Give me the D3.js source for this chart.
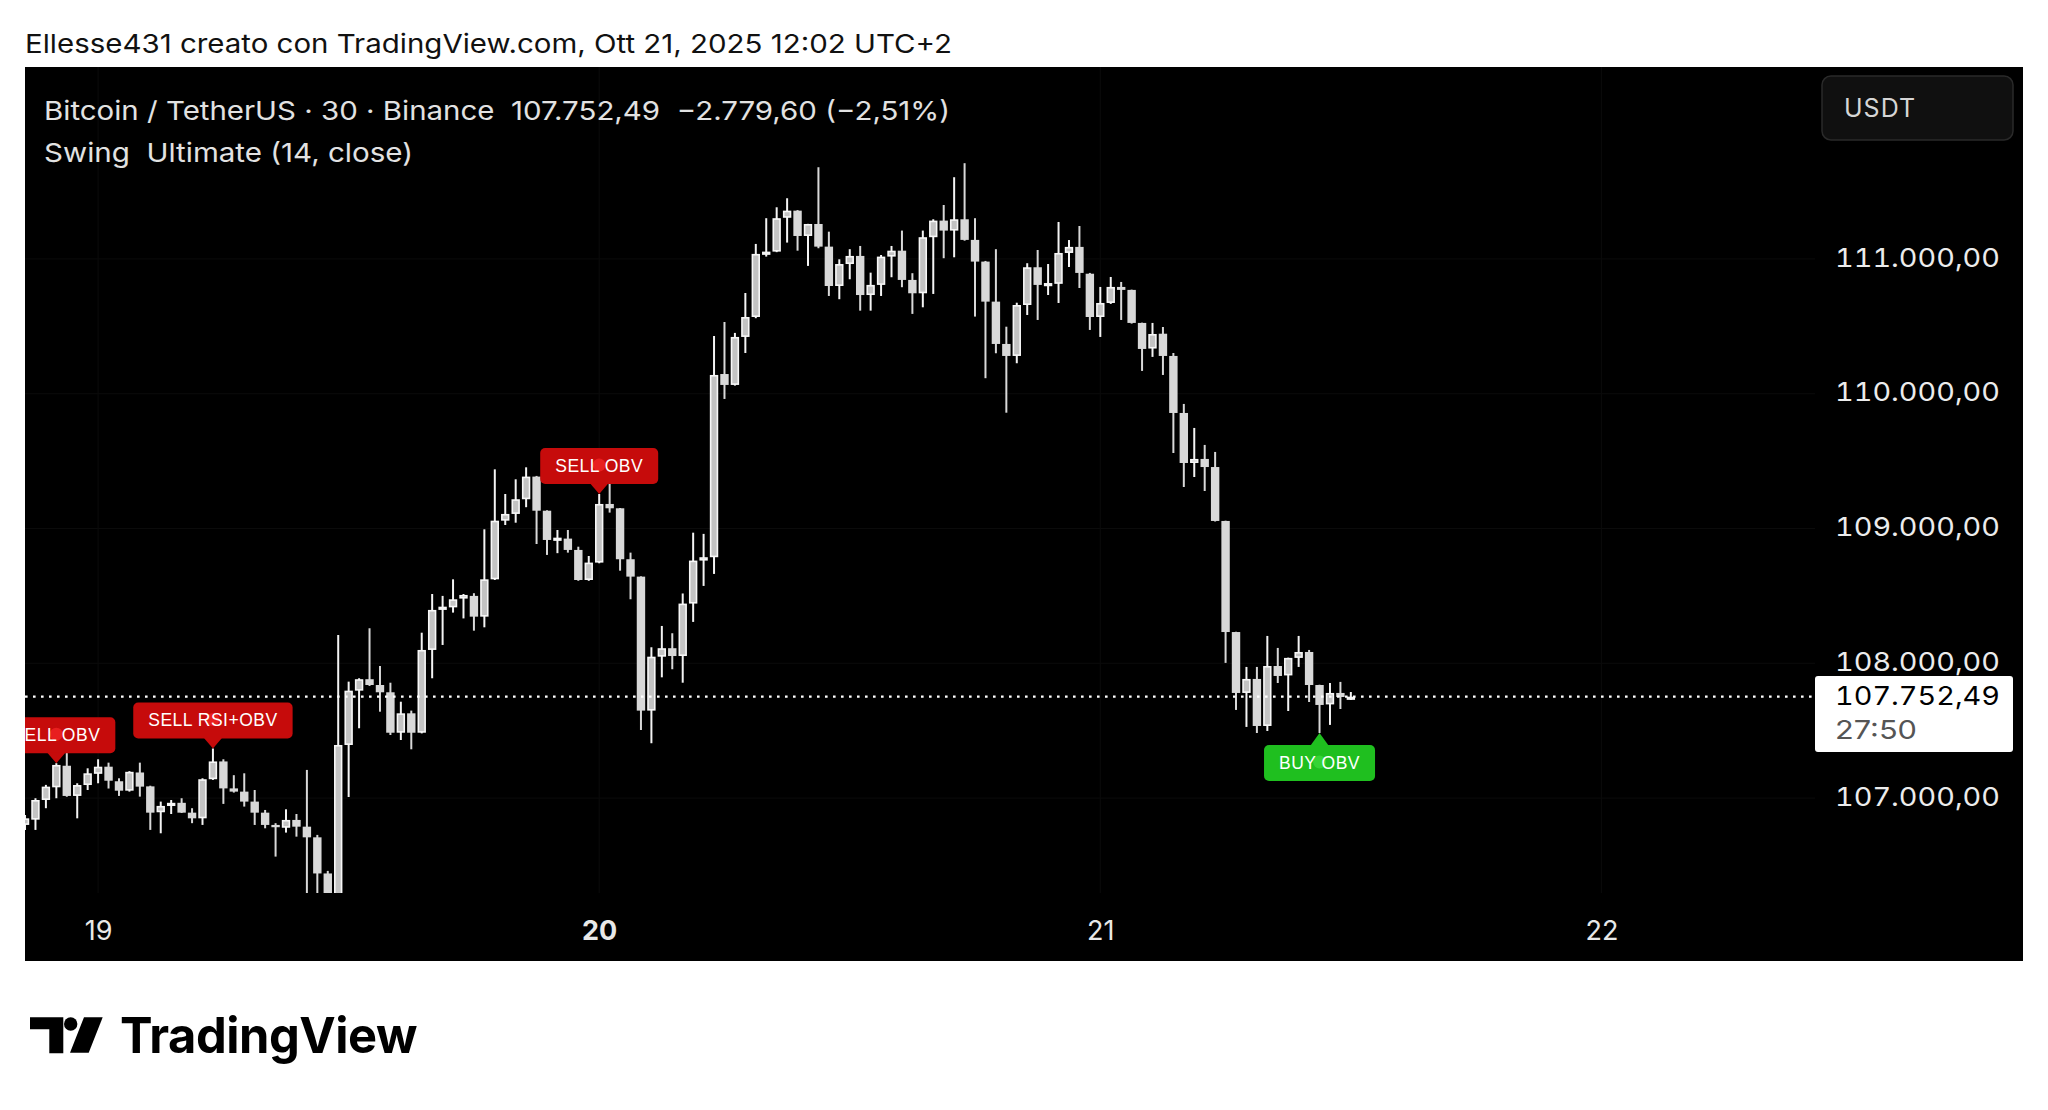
<!DOCTYPE html>
<html>
<head>
<meta charset="utf-8">
<script src="https://cdn.jsdelivr.net/npm/d3@7"></script>
<style>
html,body{margin:0;padding:0;background:#fff;}
svg{display:block;}
</style>
</head>
<body>
<svg id="chart" width="2048" height="1110"></svg>
<script>
// ---------------- DATA ----------------
const firstBarTime = Date.UTC(2025, 9, 18, 20, 30); // Oct 18 20:30 (UTC+2 clock)
const barMinutes = 30;

const opens = [106801,106840,106986,107080,107240,107016,107097,107180,107233,107125,
107055,107190,107087,106895,106945,106965,106892,106850,107140,107272,
107072,107048,106974,106892,106801,106780,106838,106788,106709,106441,
106250,107394,107797,107882,107839,107785,107485,107629,107485,108099,
108396,108415,108480,108500,108346,108623,109058,109108,109217,109385,
109132,108915,108925,108841,108618,108747,109182,109150,108772,108643,
107649,108049,108112,108054,108443,108762,108787,110146,110065,110421,
110569,111030,111054,111305,111358,111170,111259,111091,110799,110962,
111022,110732,110807,111017,111061,110844,110745,111161,111284,111210,
111294,111141,110980,110683,110369,110280,110658,110938,110807,110815,
111044,111089,110890,110569,110673,110792,110770,110525,110335,110445,
110280,109857,109486,109516,109456,109056,108232,107780,107884,107535,
107980,107910,108040,108084,107839,107695,107780,107748];
const highs = [106875,106999,107098,107259,107345,107110,107221,107288,107263,107147,
107200,107263,107092,106974,106986,106999,106925,107147,107368,107288,
107170,107184,107060,106912,106814,106917,106882,107209,106727,106460,
108210,107864,107889,108260,107980,107856,107715,107649,108227,108514,
108500,108623,108514,108520,108994,109439,109256,109365,109454,109390,
109135,108989,108989,108865,108796,109256,109373,109152,108821,108645,
108119,108277,108223,108518,108969,108960,110428,110532,110451,110747,
111111,111302,111383,111450,111362,111260,111680,111202,110997,111072,
111096,110898,111029,111096,111210,110894,111210,111294,111400,111606,
111710,111302,110985,111072,110497,110675,110968,111066,110962,111274,
111140,111244,110896,110792,110866,110829,110772,110527,110525,110495,
110302,109924,109746,109620,109568,109058,108234,107973,107973,108203,
108114,108042,108203,108099,107841,107854,107862,107787];
const lows = [106764,106764,106925,106999,107010,106850,107060,107110,107071,107016,
107048,107011,106764,106739,106882,106890,106814,106801,107135,106957,
107041,106937,106801,106776,106566,106744,106714,106200,106230,106180,
106200,107008,107518,107832,107641,107468,107431,107362,107480,107889,
108136,108376,108333,108242,108267,108618,109026,109043,109158,108885,
108804,108817,108821,108612,108612,108742,109118,108687,108475,107505,
107407,107896,107956,107856,108307,108574,108663,109961,110060,110302,
110560,111017,111050,111121,111061,110948,111079,110725,110701,110849,
110616,110616,110725,110864,110790,110592,110641,110740,111005,111012,
111135,110572,110115,110300,109859,110226,110584,110547,110732,110673,
110940,110784,110473,110421,110666,110547,110520,110169,110273,110139,
109560,109308,109382,109278,109052,108003,107654,107528,107483,107498,
107854,107646,107973,107713,107483,107543,107661,107728];
const closes = [106850,106986,107085,107246,107016,107097,107184,107233,107129,107055,
107195,107085,106892,106942,106965,106892,106850,107140,107272,107072,
107048,106974,106892,106801,106784,106838,106788,106709,106441,106250,
107394,107797,107882,107839,107785,107485,107629,107485,108099,108396,
108420,108475,108507,108346,108623,109058,109108,109217,109385,109132,
108915,108932,108841,108618,108747,109182,109150,108772,108643,107649,
108049,108112,108054,108443,108762,108787,110139,110065,110421,110569,
111037,111054,111302,111358,111170,111259,111091,110799,110962,111022,
110732,110807,111017,111061,110844,110745,111161,111284,111210,111294,
111141,110980,110683,110369,110280,110658,110938,110807,110821,111044,
111089,110896,110569,110673,110792,110770,110525,110332,110443,110280,
109857,109486,109516,109456,109056,108232,107780,107884,107535,107980,
107906,108040,108084,107839,107691,107780,107750,107752.49];

const priceTicks = [107000, 108000, 109000, 110000, 111000];
const lastPrice = 107752.49;
const countdown = "27:50";
const boldDays = ["20"];

const signalBars  = [3, 18, 55, 124];
const signalTexts = ["SELL OBV", "SELL RSI+OBV", "SELL OBV", "BUY OBV"];
const signalTypes = ["sell", "sell", "sell", "buy"];

const headerText = "Ellesse431 creato con TradingView.com, Ott 21, 2025 12:02 UTC+2";
const legend1 = "Bitcoin / TetherUS · 30 · Binance  107.752,49  \u22122.779,60 (\u22122,51%)";
const legend2 = "Swing  Ultimate (14, close)";
const currency = "USDT";

// ---------------- CHART ----------------
const svg = d3.select("#chart");
const FONT = "Inter, 'Noto Sans', 'Liberation Sans', sans-serif";
const it = d3.formatLocale({decimal: ",", thousands: ".", grouping: [3], currency: ["", ""]});
const fmtPrice = it.format(",.2f");

const bars = opens.map((o, i) => ({
  t: new Date(firstBarTime + i * barMinutes * 60000),
  o, h: highs[i], l: lows[i], c: closes[i]
}));

const pane = {x0: 25, x1: 1815, y0: 67, y1: 893};

svg.append("rect").attr("width", 2048).attr("height", 1110).attr("fill", "#fff");
svg.append("rect").attr("x", 25).attr("y", 67).attr("width", 1998).attr("height", 894).attr("fill", "#000");

const x = d3.scaleUtc()
  .domain([new Date(Date.UTC(2025, 9, 19)), new Date(Date.UTC(2025, 9, 22))])
  .range([98.1, 1601.4]);
const y = d3.scaleLinear().domain([107000, 111000]).range([798.1, 258.9]);

svg.append("defs").append("clipPath").attr("id", "paneClip")
  .append("rect").attr("x", pane.x0).attr("y", pane.y0)
  .attr("width", pane.x1 - pane.x0).attr("height", pane.y1 - pane.y0);

// grid (very faint)
const grid = svg.append("g");
grid.selectAll("line.h").data(priceTicks).join("line")
  .attr("x1", pane.x0).attr("x2", pane.x1)
  .attr("y1", d => y(d)).attr("y2", d => y(d))
  .attr("stroke", "#0b0b0b").attr("stroke-width", 1);
const dayTicks = x.ticks(d3.utcDay.every(1));
grid.selectAll("line.v").data(dayTicks).join("line")
  .attr("x1", d => x(d)).attr("x2", d => x(d))
  .attr("y1", pane.y0).attr("y2", pane.y1)
  .attr("stroke", "#0b0b0b").attr("stroke-width", 1);

// candles
const cg = svg.append("g").attr("clip-path", "url(#paneClip)");
const bw = 8.4;
const isUp = d => d.c >= d.o;
cg.selectAll("line.wick").data(bars).join("line")
  .attr("x1", d => x(d.t)).attr("x2", d => x(d.t))
  .attr("y1", d => y(d.h)).attr("y2", d => y(d.l))
  .attr("stroke", d => isUp(d) ? "#f4f4f4" : "#d8d8d8")
  .attr("stroke-width", 2);
cg.selectAll("rect.body").data(bars).join("rect")
  .attr("x", d => x(d.t) - bw / 2 + (isUp(d) ? 0.8 : 0))
  .attr("y", d => y(Math.max(d.o, d.c)) + (isUp(d) ? 0.8 : 0))
  .attr("width", d => bw - (isUp(d) ? 1.6 : 0))
  .attr("height", d => Math.max(isUp(d) ? 1.6 : 2, Math.abs(y(d.o) - y(d.c)) - (isUp(d) ? 1.6 : 0)))
  .attr("fill", d => isUp(d) ? "#c3c3c3" : "#d8d8d8")
  .attr("stroke", d => isUp(d) ? "#f7f7f7" : "none")
  .attr("stroke-width", 1.6);

// last price dotted line
svg.append("line")
  .attr("x1", pane.x0).attr("x2", pane.x1)
  .attr("y1", y(lastPrice)).attr("y2", y(lastPrice))
  .attr("stroke", "#ffffff").attr("stroke-width", 2.4)
  .attr("stroke-dasharray", "2.6,5.4");

// signal labels
const sg = svg.append("g").attr("clip-path", "url(#paneClip)");
signalBars.forEach((bi, k) => {
  const d = bars[bi];
  const cx = x(d.t);
  const sell = signalTypes[k] === "sell";
  const fill = sell ? "#c60b0b" : "#1fbf1f";
  const dot = sell ? "#e81f1f" : "#35d435";
  const tipY = sell ? y(d.h) : y(d.l);
  const boxH = 36;
  const boxTop = sell ? tipY - 10 - boxH : tipY + 12;
  const g = sg.append("g");
  const txt = g.append("text")
    .attr("x", cx).attr("y", boxTop + boxH / 2)
    .attr("text-anchor", "middle").attr("dominant-baseline", "central")
    .attr("font-family", "'Liberation Sans', Arial, sans-serif").attr("font-size", 17.5)
    .attr("letter-spacing", 0.5)
    .attr("fill", "#fff").text(signalTexts[k]);
  const tw = txt.node().getComputedTextLength();
  const bwid = tw + 30;
  g.insert("rect", "text").attr("x", cx - bwid / 2).attr("y", boxTop)
    .attr("width", bwid).attr("height", boxH).attr("rx", 5).attr("fill", fill);
  const tri = sell
    ? [[cx - 9, boxTop + boxH - 0.5], [cx + 9, boxTop + boxH - 0.5], [cx, tipY]]
    : [[cx - 9, boxTop + 0.5], [cx + 9, boxTop + 0.5], [cx, tipY]];
  g.insert("path", "text").attr("d", d3.line()(tri) + "Z").attr("fill", fill);
  g.insert("circle", "text").attr("cx", cx).attr("cy", boxTop + boxH / 2 - 1)
    .attr("r", 6.5).attr("fill", dot);
});

// price axis
const yAxis = d3.axisRight(y).tickValues(priceTicks).tickFormat(fmtPrice).tickSize(0).tickPadding(0);
const ya = svg.append("g").attr("transform", "translate(1835,0)").call(yAxis);
ya.select(".domain").remove();
ya.selectAll("text")
  .attr("font-family", FONT).attr("font-size", 26).attr("fill", "#ececec")
  .attr("dy", "0.28em").attr("x", 0)
  .attr("textLength", 165).attr("lengthAdjust", "spacingAndGlyphs")
  .style("font-variant-numeric", "tabular-nums");

// last price tag
svg.append("rect").attr("x", 1815).attr("y", 676).attr("width", 198).attr("height", 76)
  .attr("rx", 3).attr("fill", "#ffffff");
svg.append("text").attr("x", 1835).attr("y", y(lastPrice)).attr("dy", "0.32em")
  .attr("font-family", FONT).attr("font-size", 26).attr("fill", "#000")
  .attr("textLength", 165).attr("lengthAdjust", "spacingAndGlyphs")
  .style("font-variant-numeric", "tabular-nums")
  .text(fmtPrice(lastPrice));
svg.append("text").attr("x", 1835).attr("y", 731).attr("dy", "0.32em")
  .attr("font-family", FONT).attr("font-size", 26).attr("fill", "#555")
  .attr("textLength", 82).attr("lengthAdjust", "spacingAndGlyphs")
  .text(countdown);

// time axis
const xAxis = d3.axisBottom(x).ticks(d3.utcDay.every(1)).tickFormat(d3.utcFormat("%-d")).tickSize(0).tickPadding(0);
const xa = svg.append("g").attr("transform", "translate(0,930)").call(xAxis);
xa.select(".domain").remove();
xa.selectAll("text")
  .attr("font-family", FONT).attr("font-size", 27).attr("fill", "#e8e8e8")
  .attr("y", 0).attr("dy", "0.36em")
  .attr("font-weight", function() { return boldDays.includes(this.textContent) ? 700 : 400; });

// currency box
svg.append("rect").attr("x", 1822).attr("y", 76).attr("width", 191).attr("height", 64)
  .attr("rx", 9).attr("fill", "#101010").attr("stroke", "#2a2a2a").attr("stroke-width", 1.5);
svg.append("text").attr("x", 1844).attr("y", 108).attr("dy", "0.36em")
  .attr("font-family", FONT).attr("font-size", 25).attr("fill", "#d6d6d6")
  .attr("letter-spacing", 1).text(currency);

// legend
svg.append("text").attr("x", 44).attr("y", 111).attr("dy", "0.36em")
  .attr("font-family", FONT).attr("font-size", 26).attr("fill", "#e2e2e2")
  .attr("textLength", 906).attr("lengthAdjust", "spacingAndGlyphs")
  .style("white-space", "pre").attr("xml:space", "preserve")
  .text(legend1);
svg.append("text").attr("x", 44).attr("y", 153).attr("dy", "0.36em")
  .attr("font-family", FONT).attr("font-size", 26).attr("fill", "#e2e2e2")
  .attr("textLength", 369).attr("lengthAdjust", "spacingAndGlyphs")
  .style("white-space", "pre").attr("xml:space", "preserve")
  .text(legend2);

// header
svg.append("text").attr("x", 25).attr("y", 44).attr("dy", "0.36em")
  .attr("font-family", FONT).attr("font-size", 26).attr("fill", "#111")
  .attr("textLength", 927).attr("lengthAdjust", "spacingAndGlyphs")
  .text(headerText);

// TradingView logo
const logo = svg.append("g").attr("fill", "#000");
logo.append("path").attr("d", "M30,1017.3 H63.3 V1053.3 H49.3 V1029.3 H30 Z");
logo.append("circle").attr("cx", 70.7).attr("cy", 1024).attr("r", 6.7);
logo.append("path").attr("d", "M84,1017.3 H102.7 L88.7,1052.7 H70 Z");
logo.append("text").attr("x", 120).attr("y", 1052.7)
  .attr("font-family", FONT).attr("font-weight", 700).attr("font-size", 50)
  .attr("textLength", 297).attr("lengthAdjust", "spacingAndGlyphs")
  .attr("letter-spacing", -0.5)
  .text("TradingView");
</script>
</body>
</html>
